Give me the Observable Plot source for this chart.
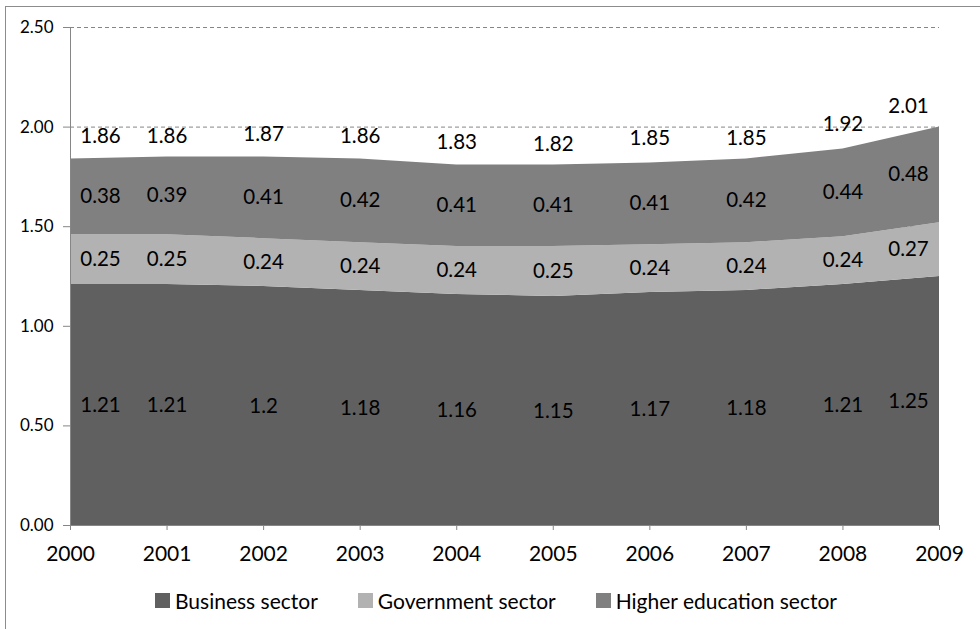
<!DOCTYPE html>
<html>
<head>
<meta charset="utf-8">
<script src="https://cdn.jsdelivr.net/npm/d3@7"></script>
<script src="https://cdn.jsdelivr.net/npm/@observablehq/plot@0.6"></script>
<style>
  html, body { margin: 0; padding: 0; background: #fff; }
  #wrap { position: relative; width: 980px; height: 629px; overflow: hidden; font-family: Lato, "Open Sans", sans-serif; }
  #frame { position: absolute; left: 5px; top: 6px; width: 1200px; height: 900px; border-left: 1px solid #8c8c8c; border-top: 1px solid #8c8c8c; pointer-events: none; }
  #chart { position: absolute; left: 0; top: 0; }
  #legend { position: absolute; left: 155px; top: 588px; display: flex; align-items: center; gap: 40px; font-size: 21px; color: #000; }
  .item { display: flex; align-items: center; }
  .sw { width: 15px; height: 15px; margin-right: 5px; }
</style>
</head>
<body>
<div id="wrap">
  <div id="chart"></div>
  <div id="legend"></div>
  <div id="frame"></div>
</div>
<script>
const years = [2000, 2001, 2002, 2003, 2004, 2005, 2006, 2007, 2008, 2009];
const business = [1.21, 1.21, 1.2, 1.18, 1.16, 1.15, 1.17, 1.18, 1.21, 1.25];
const government = [0.25, 0.25, 0.24, 0.24, 0.24, 0.25, 0.24, 0.24, 0.24, 0.27];
const higher = [0.38, 0.39, 0.41, 0.42, 0.41, 0.41, 0.41, 0.42, 0.44, 0.48];
const totals = [1.86, 1.86, 1.87, 1.86, 1.83, 1.82, 1.85, 1.85, 1.92, 2.01];
const sectors = ["Business sector", "Government sector", "Higher education sector"];
const colors = ["#606060", "#b2b2b2", "#808080"];
const yTicks = [0, 0.5, 1, 1.5, 2, 2.5];

const series = [business, government, higher];
const rows = [];
sectors.forEach((s, i) => years.forEach((y, j) => rows.push({sector: s, year: y, value: series[i][j]})));
const totalRows = years.map((y, j) => ({year: y, total: totals[j]}));

const first = years[0], last = years[years.length - 1];
function edgeAware(make) {
  return [
    make(d => d.year === first, 30),
    make(d => d.year !== first && d.year !== last, 0),
    make(d => d.year === last, -31)
  ];
}

const gray = "#868686";
const chart = Plot.plot({
  width: 980,
  height: 575,
  marginLeft: 70,
  marginRight: 41,
  marginTop: 27,
  marginBottom: 50,
  x: {domain: [first, last]},
  y: {domain: [0, 2.5]},
  color: {domain: sectors, range: colors},
  style: {fontFamily: "Lato, 'Open Sans', sans-serif", background: "transparent", color: "#000"},
  marks: [
    Plot.ruleY(yTicks.slice(1), {stroke: gray, strokeDasharray: "4,3"}),
    Plot.areaY(rows, {x: "year", y: "value", fill: "sector", z: "sector", order: sectors}),
    Plot.ruleY([0], {stroke: gray}),
    Plot.ruleX([first], {stroke: gray}),
    Plot.axisY(yTicks, {tickFormat: d3.format(".2f"), tickSize: 7, tickPadding: 10, stroke: gray, fill: "#000", fontSize: 17, label: null}),
    Plot.axisX(years, {tickFormat: "d", tickSize: 5, tickPadding: 16, stroke: gray, fill: "#000", fontSize: 21, label: null}),
    ...edgeAware((f, dx) => Plot.text(rows, Plot.stackY({
      filter: f, x: "year", y: "value", z: "sector", order: sectors,
      text: d => String(d.value), dx, fontSize: 20.5, fill: "#000"
    }))),
    ...edgeAware((f, dx) => Plot.text(totalRows, {
      filter: f, x: "year", y: "total", text: d => d.total.toFixed(2), dx, dy: -19, fontSize: 20.5, fill: "#000"
    }))
  ]
});
document.getElementById("chart").appendChild(chart);

const legend = document.getElementById("legend");
sectors.forEach((s, i) => {
  const item = document.createElement("div");
  item.className = "item";
  const sw = document.createElement("div");
  sw.className = "sw";
  sw.style.background = colors[i];
  const label = document.createElement("span");
  label.textContent = s;
  item.appendChild(sw);
  item.appendChild(label);
  legend.appendChild(item);
});
</script>
</body>
</html>
